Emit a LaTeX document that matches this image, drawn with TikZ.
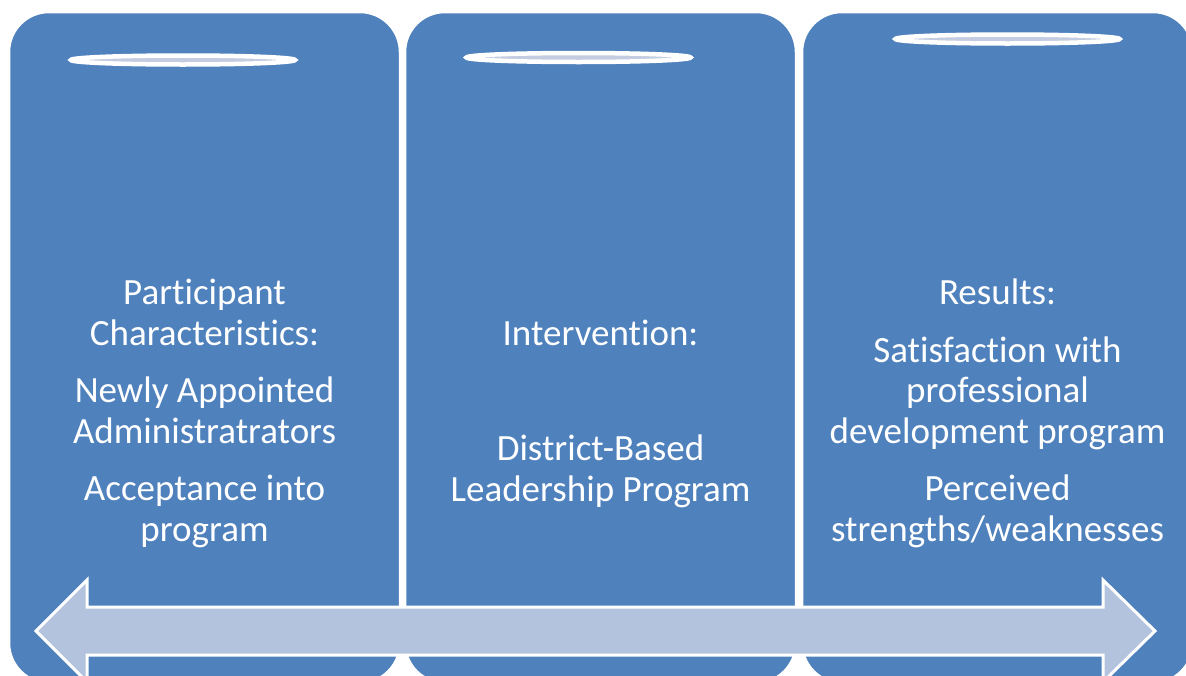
\documentclass[tikz,border=0pt]{standalone}
\usepackage{fontspec}
\setmainfont{Carlito}[Ligatures=NoCommon]
\definecolor{boxblue}{HTML}{4F81BD}
\definecolor{arrowfill}{HTML}{B3C3DD}
\definecolor{ovalfill}{HTML}{C3CCE0}
\begin{document}
\begin{tikzpicture}[x=1pt,y=-1pt,
  panel/.style={fill=boxblue,draw=white,line width=2.5pt,rounded corners=40pt},
  halo/.style={fill=ovalfill,draw=white,line width=4.5pt},
  txt/.style={text=white,align=center,font=\fontsize{37}{40.5}\selectfont,inner sep=0pt},
  bigarrow/.style={fill=arrowfill,draw=white,line width=3pt,line join=miter}]
\useasboundingbox (0,0) rectangle (1186,675);
\begin{scope}
\clip (0,0) rectangle (1186,675);
\fill[white] (0,0) rectangle (1186,675);
\draw[panel] (9,12) rectangle (400,683);
\draw[panel] (405,12) rectangle (796,683);
\draw[panel] (802,12) rectangle (1193,683);
\draw[halo] (183,60) ellipse [x radius=112, y radius=4.5];
\draw[halo] (578.5,57.5) ellipse [x radius=112, y radius=4.5];
\draw[halo] (1007.5,39) ellipse [x radius=112, y radius=4.5];
\draw[bigarrow] (36,631) -- (87,580) -- (87,607) -- (1103,607) -- (1103,580)
  -- (1155,631) -- (1103,682) -- (1103,655) -- (87,655) -- (87,682) -- cycle;
\end{scope}
\node[txt,anchor=base] (left) at (204.5,541) {Participant\\Characteristics:\\[17pt]Newly Appointed\\Administratrators\\[17pt]Acceptance into\\program};
\node[txt,anchor=base] (mid) at (600.5,501) {Intervention:\\[17pt]\mbox{}\\[17pt]District-Based\\Leadership Program};
\node[txt,anchor=base] (right) at (997.5,541) {Results:\\[17pt]Satisfaction with\\professional\\development program\\[17pt]Perceived\\strengths/weaknesses};
\end{tikzpicture}
\end{document}
